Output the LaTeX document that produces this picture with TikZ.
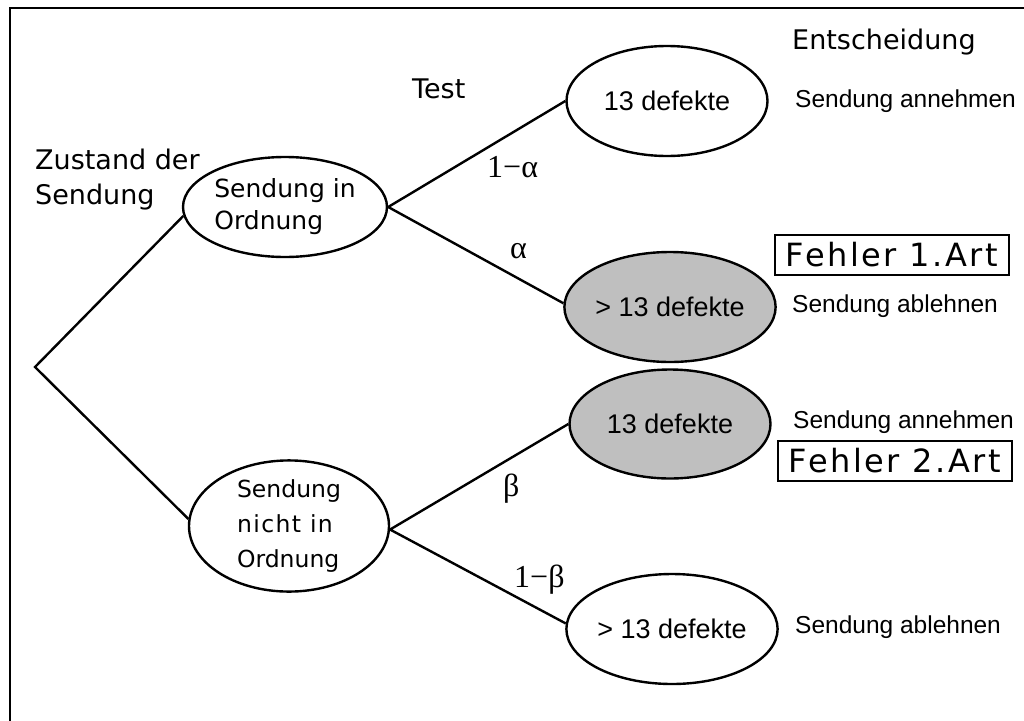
\documentclass[tikz,border=0pt]{standalone}
\usepackage{fontspec}
\usetikzlibrary{shapes.geometric}
\newfontfamily\hdrfont{DejaVu Sans}
\newfontfamily\arfont{Liberation Sans}
\newfontfamily\tmsfont{Liberation Serif}
\newfontfamily\fehlfont[LetterSpace=8]{DejaVu Sans}
\newfontfamily\spcfont[LetterSpace=6]{DejaVu Sans}
\begin{document}
\begin{tikzpicture}[x=1pt,y=-1pt,
  ell/.style={shape=ellipse,draw=black,line width=2.4pt,inner sep=0pt,
     font=\arfont\fontsize{27}{32}\selectfont},
  grey/.style={fill=gray!50!white},
  hdr/.style={inner sep=0pt,font=\hdrfont\fontsize{27}{35}\selectfont},
  dec/.style={inner sep=0pt,anchor=base west,font=\arfont\fontsize{24.5}{30}\selectfont},
  prob/.style={inner sep=0pt,anchor=base west,font=\tmsfont\fontsize{32}{36}\selectfont},
  fehler/.style={draw=black,line width=2pt,inner sep=0pt,minimum width=234pt,
     minimum height=40pt,font=\fehlfont\fontsize{32}{36}\selectfont},
  conn/.style={line width=2.4pt}]
\useasboundingbox (0,0) rectangle (1024,720);
\fill[white] (0,0) rectangle (1024,720);
% frame
\draw[line width=2.5pt] (10,721) -- (10,8) -- (1025,8);

% headers
\node[hdr,anchor=base west] (hEnt) at (792,49) {Entscheidung};
\node[hdr,anchor=base west] (hTest) at (412,98) {Test};
\node[hdr,anchor=west,align=left] (hZust) at (35,180) {Zustand der\\Sendung};

% ellipses
\node[ell,minimum width=204pt,minimum height=100pt,align=left,
      font=\hdrfont\fontsize{25}{32}\selectfont] (A) at (285,207) {Sendung in\\Ordnung};
\node[ell,minimum width=200pt,minimum height=110pt,align=left,
      font=\hdrfont\fontsize{23.5}{35}\selectfont] (B) at (289,526) {Sendung\\{\spcfont nicht in}\\Ordnung};
\node[ell,minimum width=201pt,minimum height=110pt] (C) at (667,101) {13 defekte};
\node[ell,grey,minimum width=202pt,minimum height=110pt] (D) at (670,307) {> 13 defekte};
\node[ell,grey,minimum width=201pt,minimum height=109pt] (E) at (670,424) {13 defekte};
\node[ell,minimum width=201pt,minimum height=110pt] (F) at (672,629) {> 13 defekte};

\coordinate (root) at (35,367);

% connectors
\draw[conn] (A.185) -- (root) -- (B.176);
\draw[conn] (C.west) -- (A.east) -- (D.178);
\draw[conn] (E.west) -- (B.358) -- (F.177);

% probabilities
\node[prob] (p1a) at (487,177) {1−α};
\node[prob] (pa) at (510,258) {α};
\node[prob] (pb) at (503,496) {β};
\node[prob] (p1b) at (514,587) {1−β};

% decisions
\node[dec] (d1) at (795,107) {Sendung annehmen};
\node[dec] (d2) at (792,312) {Sendung ablehnen};
\node[dec] (d3) at (793,428) {Sendung annehmen};
\node[dec] (d4) at (795,633) {Sendung ablehnen};

% error boxes
\node[fehler] (f1) at (892,255) {Fehler 1.Art};
\node[fehler] (f2) at (895,461) {Fehler 2.Art};
\end{tikzpicture}
\end{document}
